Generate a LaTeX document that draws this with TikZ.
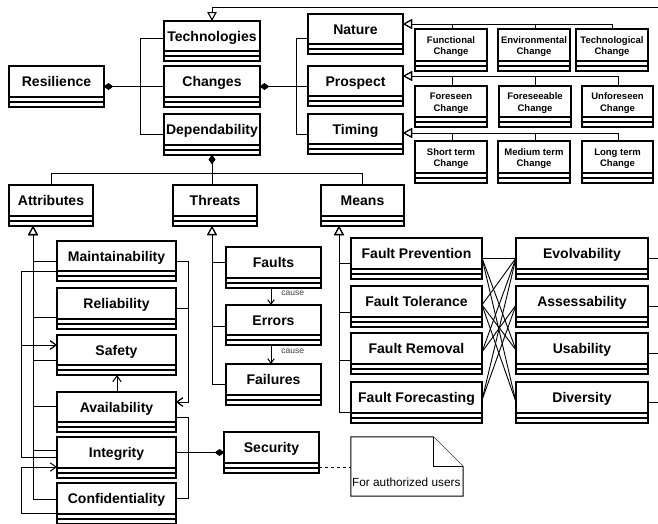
\documentclass[tikz,border=0pt]{standalone}
\usepackage{fontspec}
\setmainfont{Liberation Sans}
\usetikzlibrary{arrows.meta}

\tikzset{
  classbox/.style={draw=black, line width=1.2pt, fill=white, inner sep=0pt, outer sep=0pt},
  classrule/.style={line width=1.2pt},
  bigname/.style={font=\fontsize{14}{16}\selectfont\bfseries, text height=10pt, text depth=0pt},
  smallname/.style={font=\fontsize{9.5}{11.5}\selectfont\bfseries, align=center, yshift=-1.5pt},
  link/.style={line width=0.9pt, draw=black},
  compose/.style={link, {Diamond[length=9pt,width=6.5pt]}-},
  composeend/.style={link, -{Diamond[length=9pt,width=6.5pt]}},
  inherit/.style={link, -{Triangle[length=9pt,width=9.5pt,fill=white,line width=1.1pt]}},
  depend/.style={link, -{Straight Barb[length=6pt,width=8.5pt,line width=1pt]}},
  causes/.style={link, -{Straight Barb[length=4.5pt,width=6.5pt,line width=1pt]}},
  causelabel/.style={font=\fontsize{8.5}{10}\selectfont, text=black!75, inner sep=0pt},
  notebox/.style={draw=black, line width=1pt, fill=white},
}

% UML class box: name compartment plus two empty compartments
% [label style]{name}{x1}{y1}{x2}{y2}{title}
\newcommand{\umlclass}[7][bigname]{%
  \pgfmathsetmacro{\clsW}{#5-#3}%
  \pgfmathsetmacro{\clsH}{#6-#4}%
  \node[classbox, minimum width=\clsW pt, minimum height=\clsH pt] (#2) at ({(#3+#5)/2},{(#4+#6)/2}) {};
  \node[#1, inner sep=0pt] (#2-label) at ({(#3+#5)/2},{(#4+#6-10)/2}) {#7};
  \draw[classrule] (#3,#6-10) -- (#5,#6-10) (#3,#6-5) -- (#5,#6-5);
}

\begin{document}
\begin{tikzpicture}[x=1pt, y=-1pt]
\fill[white] (0,0) rectangle (658,523);
\useasboundingbox (0,0) rectangle (658,523);

% top level
\umlclass{res}{9}{66}{104}{107}{Resilience}
\umlclass{tech}{164}{21}{260}{61}{Technologies}
\umlclass{chg}{164}{66}{260}{107}{Changes}
\umlclass{dep}{164}{114}{260}{155}{Dependability}

% kinds of change
\umlclass{nat}{308}{14}{403}{54}{Nature}
\umlclass{pro}{308}{66}{403}{106}{Prospect}
\umlclass{tim}{308}{114}{403}{154}{Timing}
\umlclass[smallname]{fc}{415}{29}{487}{71}{Functional\\Change}
\umlclass[smallname]{ec}{498}{29}{570}{71}{Environmental\\Change}
\umlclass[smallname]{tc}{576}{29}{648}{71}{Technological\\Change}
\umlclass[smallname]{fs}{415}{86}{487}{127}{Foreseen\\Change}
\umlclass[smallname]{fb}{499}{86}{571}{127}{Foreseeable\\Change}
\umlclass[smallname]{uf}{582}{86}{653}{127}{Unforeseen\\Change}
\umlclass[smallname]{st}{415}{141}{487}{183}{Short term\\Change}
\umlclass[smallname]{mt}{498}{141}{570}{183}{Medium term\\Change}
\umlclass[smallname]{lt}{582}{141}{653}{183}{Long term\\Change}

% dependability tree
\umlclass{attr}{9}{185}{93}{226}{Attributes}
\umlclass{thr}{173}{185}{257}{226}{Threats}
\umlclass{means}{321}{185}{404}{226}{Means}

\umlclass{mai}{57}{241}{176}{281}{Maintainability}
\umlclass{rel}{57}{288}{176}{329}{Reliability}
\umlclass{saf}{57}{335}{176}{375}{Safety}
\umlclass{ava}{57}{392}{176}{432}{Availability}
\umlclass{int}{57}{437}{176}{478}{Integrity}
\umlclass{con}{57}{483}{176}{524}{Confidentiality}

\umlclass{flt}{226}{247}{321}{288}{Faults}
\umlclass{err}{226}{305}{321}{345}{Errors}
\umlclass{fal}{226}{364}{321}{405}{Failures}

\umlclass{fpr}{351}{238}{482}{279}{Fault Prevention}
\umlclass{fto}{351}{286}{482}{327}{Fault Tolerance}
\umlclass{fre}{351}{333}{482}{374}{Fault Removal}
\umlclass{ffo}{351}{382}{482}{423}{Fault Forecasting}

\umlclass{evo}{516}{238}{648}{279}{Evolvability}
\umlclass{ass}{516}{286}{648}{327}{Assessability}
\umlclass{usa}{516}{333}{648}{374}{Usability}
\umlclass{div}{516}{382}{648}{423}{Diversity}

\umlclass{sec}{224}{432}{319}{473}{Security}

% note
\node[inner sep=0pt, minimum width=112pt, minimum height=59pt] (note) at (407,466.5) {};
\draw[notebox] (note.north west) -- ([xshift=-30pt]note.north east) -- ([yshift=-30pt]note.north east)
  -- (note.south east) -- (note.south west) -- cycle;
\draw[notebox] ([xshift=-30pt]note.north east) -- ([xshift=-30pt,yshift=-30pt]note.north east)
  -- ([yshift=-30pt]note.north east);
\node[font=\fontsize{11.8}{14}\selectfont, anchor=west, inner sep=0pt] (note-text) at (352,482) {For authorized users};

% off-page connector ends
\coordinate (ext) at (670,7);
\coordinate (evo-out) at (670,258);
\coordinate (ass-out) at (670,306);
\coordinate (usa-out) at (670,353);
\coordinate (div-out) at (670,402);

% inheritance into Technologies from the right
\draw[inherit] (ext) -| (tech.north);

% Resilience composition
\foreach \t/\yy in {tech/38, chg/86.5, dep/134}
  \draw[compose] (res.east) -- (res.east -| 140,0) |- (\t.west |- 0,\yy);

% Changes composition
\foreach \t/\yy in {nat/38, pro/86.5, tim/134}
  \draw[compose] (chg.east) -- (chg.east -| 296,0) |- (\t.west |- 0,\yy);

% kinds of change
\foreach \c/\xx in {fc/452, ec/535, tc/612}
  \draw[inherit] (\c.north -| \xx,0) |- (nat.east |- 0,24);
\foreach \c/\xx in {fs/452, fb/535, uf/618}
  \draw[inherit] (\c.north -| \xx,0) |- (pro.east |- 0,76);
\foreach \c/\xx in {st/452, mt/535, lt/618}
  \draw[inherit] (\c.north -| \xx,0) |- (tim.east |- 0,133);

% Dependability composition
\draw[compose] (dep.south) -- (dep.south |- 0,173) -| (attr.north);
\draw[compose] (dep.south) -- (dep.south |- thr.north);
\draw[compose] (dep.south) -- (dep.south |- 0,173) -| (means.north);

% attributes
\foreach \c/\yy in {mai/261, rel/317, saf/360, ava/406, int/450, con/499}
  \draw[inherit] (\c.west |- 0,\yy) -- (33,\yy) -- (attr.south -| 33,0);
\draw[depend] (mai.west |- 0,271) -- (21,271) |- (saf.west |- 0,345);
\draw[depend] (int.west |- 0,457) -- (21,457) |- (saf.west |- 0,345);
\draw[depend] (con.west |- 0,513) -- (21,513) |- (int.west |- 0,467);
\draw[depend] (mai.east |- 0,261) -- (188,261) |- (ava.east |- 0,402);
\draw[depend] (rel.east |- 0,308) -- (188,308) |- (ava.east |- 0,402);
\draw[depend] (ava.north -| 117,0) -- (saf.south -| 117,0);

% Security composition
\draw[composeend] (ava.east |- 0,417) -- (188,417) |- (sec.west);
\draw[composeend] (int.east |- sec.west) -- (sec.west);
\draw[composeend] (con.east |- 0,498) -- (188,498) |- (sec.west);
\draw[link, dash pattern=on 3pt off 3pt] (sec.east |- 0,467) -- (note.west |- 0,467);

% threats
\foreach \c/\yy in {flt/262, err/326, fal/384}
  \draw[inherit] (\c.west |- 0,\yy) -- (212,\yy) -- (thr.south -| 212,0);
\draw[causes] (flt.south -| 271,0) -- (err.north -| 271,0)
  node[causelabel, pos=0.3, anchor=west, xshift=10pt] (cause1) {cause};
\draw[causes] (err.south -| 271,0) -- (fal.north -| 271,0)
  node[causelabel, pos=0.35, anchor=west, xshift=10pt] (cause2) {cause};

% means
\foreach \c/\yy in {fpr/263, fto/312, fre/360, ffo/412}
  \draw[inherit] (\c.west |- 0,\yy) -- (339,\yy) -- (means.south -| 339,0);

% means to qualities
\foreach \a/\ay/\b/\by in {fpr/258/evo/258, fpr/258/usa/350, fpr/258/div/402,
    fto/305/evo/258, fto/305/usa/350, fto/305/div/402,
    fre/352/evo/258, fre/352/ass/305,
    ffo/400/evo/258, ffo/400/ass/305}
  \draw[link] (\a.east |- 0,\ay) -- (\b.west |- 0,\by);

% qualities leading on to the right
\draw[link] (evo.east |- evo-out) -- (evo-out);
\draw[link] (ass.east |- ass-out) -- (ass-out);
\draw[link] (usa.east |- usa-out) -- (usa-out);
\draw[link] (div.east |- div-out) -- (div-out);
\end{tikzpicture}
\end{document}
